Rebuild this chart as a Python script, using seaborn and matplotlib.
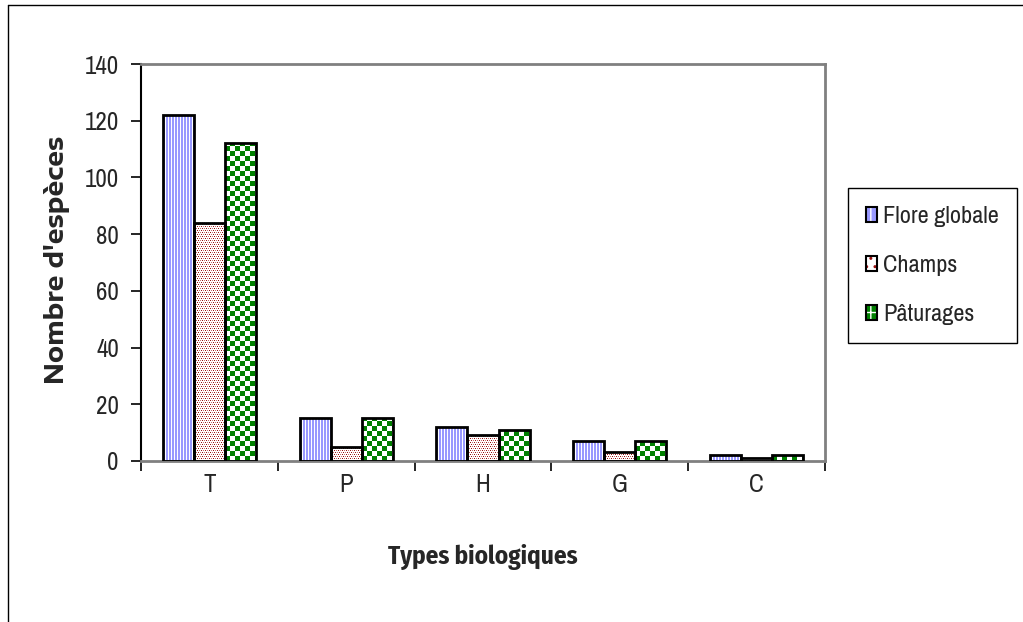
import numpy as np
import pandas as pd
import seaborn as sns
import matplotlib.pyplot as plt
from matplotlib.patches import Patch
from matplotlib.legend_handler import HandlerTuple
from matplotlib.lines import Line2D
from matplotlib.colors import to_rgb

# Species counts per life form
types = ["T", "P", "H", "G", "C"]
series = ["Flore globale", "Champs", "Pâturages"]
flore_globale = [122, 15, 12, 7, 2]
champs = [84, 5, 9, 3, 1]
paturages = [112, 15, 11, 7, 2]

df = pd.DataFrame({
    "Type": types * 3,
    "Série": np.repeat(series, len(types)),
    "Nombre": flore_globale + champs + paturages,
})

sns.set_theme(style="white")
NARROW = ["Archivo Narrow", "Liberation Sans", "DejaVu Sans"]
NARROW_BOLD = ["Fira Sans Condensed", "Archivo Narrow", "Liberation Sans", "DejaVu Sans"]
WIDE = ["Encode Sans Expanded", "Liberation Sans", "DejaVu Sans"]
plt.rcParams["font.family"] = NARROW

W, H = 1023, 622
fig = plt.figure(figsize=(W / 100, H / 100), dpi=100)
ax = fig.add_axes([141 / W, 1 - 461 / H, (825 - 141) / W, (461 - 64) / H])

sns.barplot(data=df, x="Type", y="Nombre", hue="Série", order=types,
            hue_order=series, width=0.68, palette=["white"] * 3,
            saturation=1, edgecolor="black", linewidth=2, ax=ax,
            legend=False, errorbar=None)
ax.set_xlim(-0.5, 4.5)
ax.set_ylim(0, 140)


# Pixel tiles for the bar fills
def tile_stripes():
    b, w = to_rgb("#9999FF"), (1, 1, 1)
    return np.array([[b, b, w]])


def tile_dots():
    dark, light = to_rgb("#9A1010"), to_rgb("#C86A6A")
    t = np.ones((4, 4, 3))
    t[0, 0] = dark
    t[0, 2] = light
    t[2, 1] = light
    t[2, 3] = dark
    return t


def tile_checker(n=5):
    g = np.array(to_rgb("#008000"))
    t = np.ones((2 * n, 2 * n, 3))
    t[:n, :n] = g
    t[n:, n:] = g
    return t


tiles = [tile_stripes(), tile_dots(), tile_checker()]

# Fill each bar with its pattern, pixel-aligned so the tiles are not resampled
fig.canvas.draw()
to_data = ax.transData.inverted()
for container, tile in zip(ax.containers, tiles):
    for bar in container:
        x0, w, h = bar.get_x(), bar.get_width(), bar.get_height()
        p0 = ax.transData.transform((x0, 0))
        p1 = ax.transData.transform((x0 + w, h))
        px0, py0 = int(round(p0[0])), int(round(p0[1]))
        wpx = max(int(round(p1[0])) - px0, 1)
        hpx = max(int(round(p1[1])) - py0, 1)
        ty, tx = tile.shape[:2]
        reps = (hpx // ty + 1, wpx // tx + 1, 1)
        img = np.tile(tile, reps)[:hpx, :wpx]
        d0 = to_data.transform((px0, py0))
        d1 = to_data.transform((px0 + wpx, py0 + hpx))
        ax.imshow(img, extent=(d0[0], d1[0], d0[1], d1[1]), origin="lower",
                  interpolation="nearest", aspect="auto", zorder=2)
        bar.set_facecolor("none")
        bar.set_zorder(3)
ax.set_xlim(-0.5, 4.5)
ax.set_ylim(0, 140)

# Axes styling
ax.set_xlabel("")
ax.set_ylabel("")
ax.set_yticks(range(0, 141, 20))
ax.set_xticks(range(len(types)))
ax.set_xticklabels(types)
ax.set_xticks(np.arange(-0.5, len(types)), minor=True)
ax.tick_params(axis="y", which="major", direction="out", length=7, width=1.2,
               color="black", left=True, pad=9, labelsize=18)
ax.tick_params(axis="x", which="major", length=0, pad=9, labelsize=18)
ax.tick_params(axis="x", which="minor", direction="out", length=7, width=1.2,
               color="black", bottom=True)
for side in ["top", "right", "bottom"]:
    ax.spines[side].set_color("#808080")
    ax.spines[side].set_linewidth(2)
ax.spines["left"].set_color("black")
ax.spines["left"].set_linewidth(1.5)

fig.text(57 / W, 1 - 260 / H, "Nombre d'espèces", rotation=90, ha="center",
         va="center", fontsize=18, fontweight="bold", family=WIDE)
fig.text(483 / W, 1 - 557 / H, "Types biologiques", ha="center", va="center",
         fontsize=18, fontweight="bold", family=NARROW_BOLD)

# Legend with outlined pattern swatches
swatches = [
    Patch(facecolor="#9999FF", edgecolor="white", hatch="||", linewidth=0),
    Patch(facecolor="white", edgecolor="#9A1010", hatch="..", linewidth=0),
    Patch(facecolor="#008000", edgecolor="white", hatch="++", linewidth=0),
]
handles = [(s, Patch(facecolor="none", edgecolor="black", linewidth=1.5))
           for s in swatches]
leg = fig.legend(handles, series, handler_map={tuple: HandlerTuple(ndivide=1)},
                 loc="upper left", bbox_to_anchor=(848 / W, 1 - 188 / H),
                 borderaxespad=0, fontsize=17.5, handlelength=0.45,
                 handleheight=0.6, handletextpad=0.25, labelspacing=1.15,
                 borderpad=0.75, fancybox=False, shadow=False, framealpha=1)
leg.get_frame().set_edgecolor("black")
leg.get_frame().set_linewidth(1)

# Outer frame
fig.add_artist(Line2D([8 / W, 8 / W], [0, 1 - 5 / H], transform=fig.transFigure,
                      color="black", linewidth=1))
fig.add_artist(Line2D([8 / W, 1], [1 - 5 / H, 1 - 5 / H], transform=fig.transFigure,
                      color="black", linewidth=1))

fig.savefig("out.png", dpi=100)
